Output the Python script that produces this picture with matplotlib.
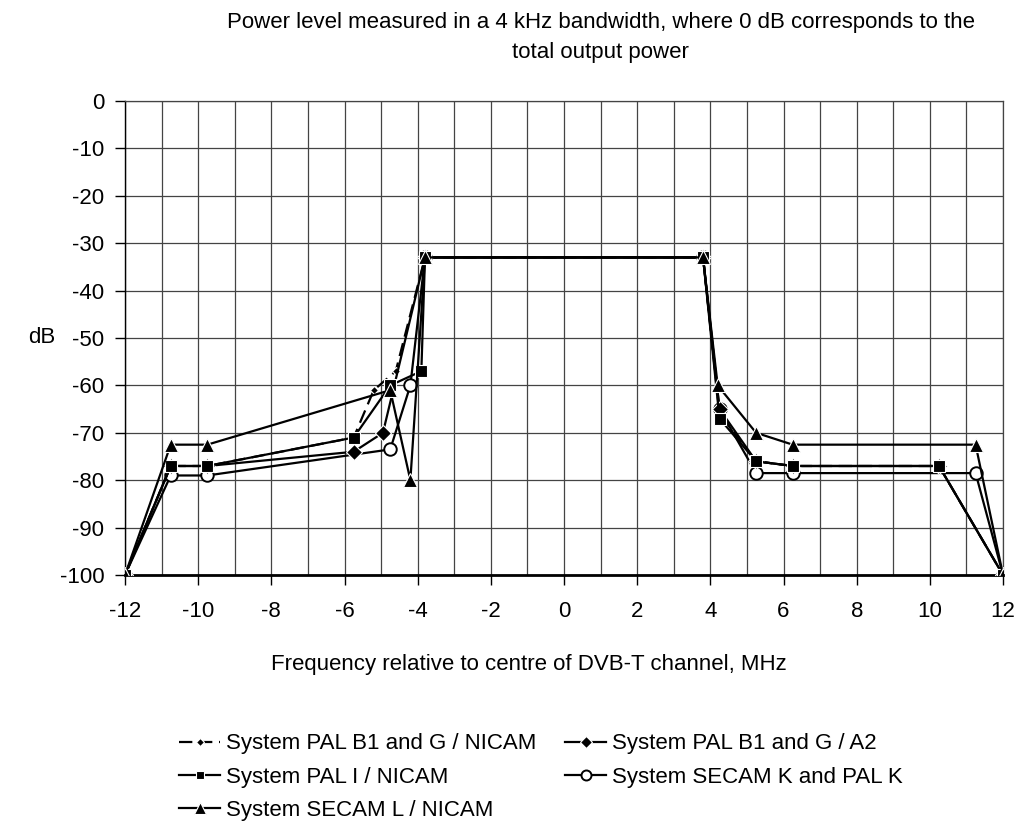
import matplotlib.pyplot as plt
import numpy as np

plt.rcParams['font.family'] = ['Liberation Sans', 'DejaVu Sans']
plt.rcParams['font.size'] = 16
plt.rcParams['axes.unicode_minus'] = False

# data (MHz, dB)
pal_bg_nicam_x = [-12, -10.75, -9.75, -5.75, -5.2, -4.6, -3.8, 3.8, 4.25, 5.25, 6.25, 10.25, 12]
pal_bg_nicam_y = [-100, -77, -77, -71, -61, -57, -33, -33, -66, -76, -77, -77, -100]

pal_bg_a2_x = [-12, -10.75, -9.75, -5.75, -4.95, -3.8, 3.8, 4.25, 5.25, 6.25, 10.25, 12]
pal_bg_a2_y = [-100, -77, -77, -74, -70, -33, -33, -65, -76, -77, -77, -100]

pal_i_x = [-12, -10.75, -9.75, -5.75, -4.75, -3.9, -3.8, 3.8, 4.25, 5.25, 6.25, 10.25, 12]
pal_i_y = [-100, -77, -77, -71, -60, -57, -33, -33, -67, -76, -77, -77, -100]

secam_k_x = [-12, -10.75, -9.75, -4.75, -4.2, -3.8, 3.8, 4.25, 5.25, 6.25, 11.25, 12]
secam_k_y = [-100, -79, -79, -73.5, -60, -33, -33, -65, -78.5, -78.5, -78.5, -100]

secam_l_x = [-12, -10.75, -9.75, -4.75, -4.2, -3.8, 3.8, 4.2, 5.25, 6.25, 11.25, 12]
secam_l_y = [-100, -72.5, -72.5, -61, -80, -33, -33, -60, -70, -72.5, -72.5, -100]

labels = ['System PAL B1 and G / NICAM', 'System PAL B1 and G / A2',
          'System PAL I / NICAM', 'System SECAM K and PAL K',
          'System SECAM L / NICAM']

fig = plt.figure(figsize=(10.18, 8.25), dpi=100)
ax = fig.add_axes([0.1228, 0.303, 0.8625, 0.5746])

h4, = ax.plot(secam_k_x, secam_k_y, color='black', lw=1.6, zorder=2,
              marker='o', ms=9, mfc='white', mec='black', mew=1.4, label=labels[3])
h1, = ax.plot(pal_bg_nicam_x, pal_bg_nicam_y, color='black', lw=1.6, dashes=(6, 3), zorder=3,
              marker='D', ms=4.5, mfc='black', mec='white', mew=0.8, label=labels[0])
h2, = ax.plot(pal_bg_a2_x, pal_bg_a2_y, color='black', lw=1.6, zorder=3,
              marker='D', ms=8, mfc='black', mec='white', mew=0.8, label=labels[1])
h3, = ax.plot(pal_i_x, pal_i_y, color='black', lw=1.6, zorder=3,
              marker='s', ms=8, mfc='black', mec='white', mew=0.8, label=labels[2])
h5, = ax.plot(secam_l_x, secam_l_y, color='black', lw=1.6, zorder=3,
              marker='^', ms=10, mfc='black', mec='white', mew=0.8, label=labels[4])

ax.set_xlim(-12, 12)
ax.set_ylim(-100, 0)
ax.set_xticks(np.arange(-12, 13, 2))
ax.set_xticks(np.arange(-12, 13, 1), minor=True)
ax.set_yticks(np.arange(-100, 1, 10))
ax.tick_params(axis='x', which='minor', length=0)
ax.tick_params(axis='x', which='major', direction='out', length=7, width=1, pad=12)
ax.tick_params(axis='y', which='major', direction='out', length=7, width=1, pad=8)
ax.grid(True, which='both', color='#444444', lw=0.9)
ax.set_axisbelow(True)
for s in ['top', 'right']:
    ax.spines[s].set_linewidth(0.9)
    ax.spines[s].set_color('#444444')
ax.spines['bottom'].set_linewidth(2)
ax.spines['left'].set_linewidth(1)

ax.set_xlabel('Frequency relative to centre of DVB-T channel, MHz')
ax.xaxis.set_label_coords(0.46, -0.188)
ax.xaxis.label.set_va('center')
ax.set_ylabel('dB', rotation=0, va='center', ha='center')
ax.yaxis.set_label_coords(-0.0945, 0.502)
fig.text(0.590, 0.9545, 'Power level measured in a 4 kHz bandwidth, where 0 dB corresponds to the\ntotal output power',
         ha='center', va='center', linespacing=1.55)

fig.legend([h1, h3, h5, h2, h4], [labels[0], labels[2], labels[4], labels[1], labels[3]],
           ncol=2, loc='center left', bbox_to_anchor=(0.176, 0.058), frameon=False,
           handlelength=1.85, handletextpad=0.25, columnspacing=1.3, labelspacing=0.55,
           markerscale=0.8, borderaxespad=0, borderpad=0)

fig.savefig('out.png', dpi=100)
